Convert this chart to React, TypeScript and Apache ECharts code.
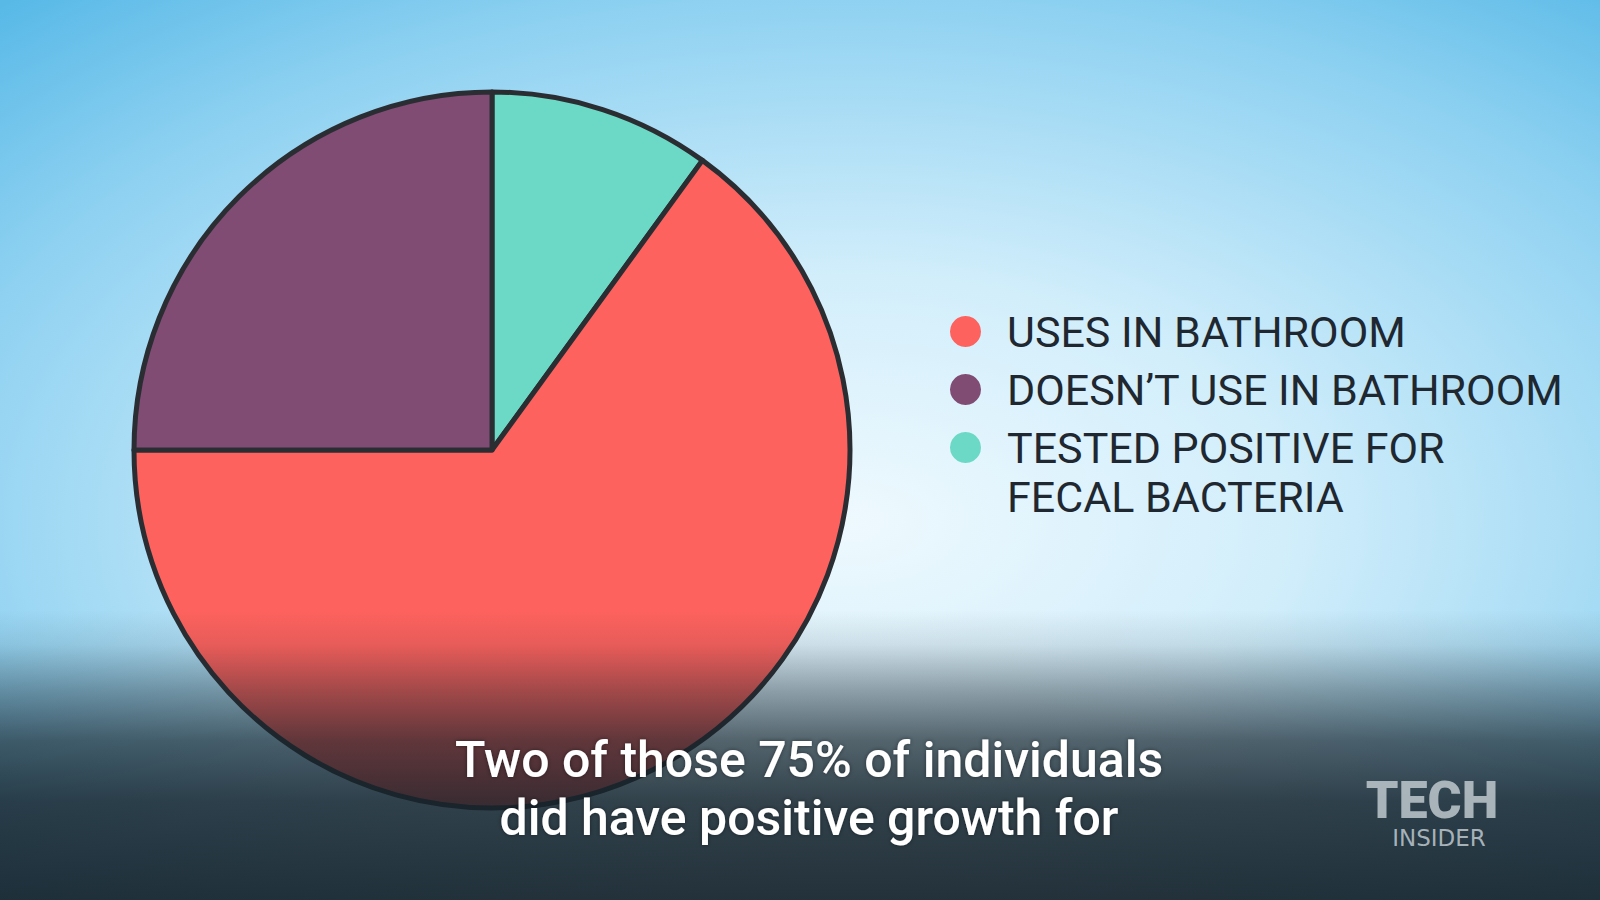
import React, { useEffect, useRef } from "react";
import * as echarts from "echarts";

const sliceNames = [
  "TESTED POSITIVE FOR\nFECAL BACTERIA",
  "USES IN BATHROOM",
  "DOESN’T USE IN BATHROOM",
];
const sliceValues = [10, 65, 25];
const sliceColors = ["#6cd9c6", "#fe625e", "#804c74"];
const legendMain = ["USES IN BATHROOM", "DOESN’T USE IN BATHROOM"];
const legendSub = ["TESTED POSITIVE FOR\nFECAL BACTERIA"];
const subtitleLines = ["Two of those 75% of individuals", "did have positive growth for"];

export default function App() {
  const ref = useRef<HTMLDivElement>(null);
  useEffect(() => {
    document.body.style.margin = "0";
    document.body.style.overflow = "hidden";
    if (!ref.current) return;
    const chart = echarts.init(ref.current, null, { renderer: "svg" });
    const legendText = {
      fontFamily: "Roboto",
      fontSize: 43,
      fontWeight: 400,
      color: "#1f2830",
      lineHeight: 49,
      padding: [0, 0, 0, 21],
    };
    chart.setOption({
      animation: false,
      backgroundColor: {
        type: "radial",
        x: 0.53,
        y: 0.58,
        r: 0.78,
        colorStops: [
          { offset: 0, color: "#eef9fe" },
          { offset: 0.35, color: "#d2eefb" },
          { offset: 0.75, color: "#8ed1f1" },
          { offset: 1, color: "#58b9e7" },
        ],
      },
      legend: [
        {
          orient: "vertical",
          left: 945,
          top: 302,
          icon: "circle",
          itemWidth: 31,
          itemHeight: 31,
          itemGap: 9,
          selectedMode: false,
          data: legendMain,
          itemStyle: { borderWidth: 0 },
          textStyle: legendText,
        },
        {
          orient: "vertical",
          left: 945,
          top: 369,
          icon: "circle",
          itemWidth: 31,
          itemHeight: 31,
          selectedMode: false,
          data: legendSub,
          itemStyle: { borderWidth: 0 },
          formatter: (name: string) => `{sp| }\n${name}`,
          textStyle: {
            ...legendText,
            rich: { sp: { fontSize: 10, lineHeight: 49 } },
          },
        },
      ],
      series: [
        {
          type: "pie",
          center: [492, 450],
          radius: 358,
          startAngle: 90,
          clockwise: true,
          silent: true,
          label: { show: false },
          labelLine: { show: false },
          emphasis: { disabled: true },
          itemStyle: { borderColor: "#2a2e33", borderWidth: 5 },
          data: sliceNames.map((n, i) => ({
            name: n,
            value: sliceValues[i],
            itemStyle: { color: sliceColors[i] },
          })),
        },
      ],
      graphic: [
        {
          type: "rect",
          z: 100,
          silent: true,
          shape: { x: 0, y: 610, width: 1600, height: 290 },
          style: {
            fill: {
              type: "linear",
              x: 0,
              y: 0,
              x2: 0,
              y2: 1,
              colorStops: [
                { offset: 0, color: "rgba(22,34,42,0)" },
                { offset: 0.12, color: "rgba(22,34,42,0.1)" },
                { offset: 0.28, color: "rgba(22,34,42,0.4)" },
                { offset: 0.45, color: "rgba(22,34,42,0.68)" },
                { offset: 0.66, color: "rgba(22,34,42,0.84)" },
                { offset: 1, color: "rgba(22,34,42,0.92)" },
              ],
            },
          },
        },
        {
          type: "text",
          z: 110,
          silent: true,
          style: {
            x: 809,
            y: 789,
            text: subtitleLines.join("\n"),
            fontFamily: "Roboto",
            fontWeight: 500,
            fontSize: 50,
            lineHeight: 58,
            fill: "#ffffff",
            align: "center",
            verticalAlign: "middle",
            textShadowBlur: 4,
            textShadowColor: "rgba(0,0,0,0.45)",
          },
        },
        {
          type: "text",
          z: 110,
          silent: true,
          style: {
            x: 1432,
            y: 800,
            text: "TECH",
            fontFamily: "Roboto",
            fontWeight: 900,
            fontSize: 52,
            fill: "rgba(190,200,206,0.85)",
            align: "center",
            verticalAlign: "middle",
          },
        },
        {
          type: "text",
          z: 110,
          silent: true,
          style: {
            x: 1439,
            y: 838,
            text: "INSIDER",
            fontFamily: "DejaVu Sans",
            fontWeight: 500,
            fontSize: 23,
            fill: "rgba(190,200,206,0.85)",
            align: "center",
            verticalAlign: "middle",
          },
        },
      ],
    });
    return () => chart.dispose();
  }, []);
  return <div ref={ref} style={{ width: 1600, height: 900 }} />;
}
